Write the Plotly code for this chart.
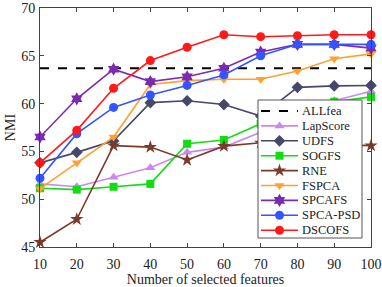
import plotly.graph_objects as go

features = [10, 20, 30, 40, 50, 60, 70, 80, 90, 100]
allfea = 63.7
lapscore = [51.6, 51.3, 52.3, 53.3, 54.9, 55.45, 57.0, 58.8, 60.3, 61.3]
udfs = [53.8, 54.9, 56.1, 60.1, 60.3, 59.9, 58.7, 61.7, 61.85, 61.9]
sogfs = [51.15, 51.0, 51.3, 51.6, 55.8, 56.2, 57.9, 59.6, 60.2, 60.7]
rne = [45.5, 47.9, 55.6, 55.45, 54.1, 55.55, 55.9, 55.8, 55.7, 55.6]
fspca = [51.1, 53.8, 56.5, 62.0, 62.4, 62.55, 62.55, 63.4, 64.7, 65.2]
spcafs = [56.5, 60.5, 63.6, 62.3, 62.8, 63.7, 65.4, 66.2, 66.2, 65.8]
spcapsd = [52.2, 56.85, 59.6, 60.9, 61.9, 63.0, 65.0, 66.2, 66.2, 66.2]
dscofs = [53.8, 57.2, 61.6, 64.5, 65.9, 67.2, 67.0, 67.1, 67.2, 67.2]

series = [
    ("LapScore", lapscore, "#cc88ee", "triangle-up", 9),
    ("UDFS", udfs, "#474768", "diamond", 9),
    ("SOGFS", sogfs, "#11dd11", "square", 8),
    ("RNE", rne, "#7a3a2c", "star", 10),
    ("FSPCA", fspca, "#ffa030", "triangle-down", 9),
    ("SPCAFS", spcafs, "#7a2bb0", "hexagram", 10),
    ("SPCA-PSD", spcapsd, "#3355ff", "circle", 9),
    ("DSCOFS", dscofs, "#ff1a1a", "circle", 9),
]

FONT = "Liberation Serif"
TXT = "#222222"

fig = go.Figure()
fig.add_trace(go.Scatter(
    x=features, y=[allfea] * len(features), mode="lines", name="ALLfea",
    line=dict(color="black", width=1.8, dash="dash"), showlegend=False,
))
for name, vals, color, sym, size in series:
    fig.add_trace(go.Scatter(
        x=features, y=vals, mode="lines+markers", name=name,
        line=dict(color=color, width=1.6), cliponaxis=False,
        marker=dict(color=color, symbol=sym, size=size), showlegend=False,
    ))

# ---- custom compact legend drawn on an overlay axis (plot-area fractions) ----
W, H = 331.0, 239.0
def fx(px):
    return (px - 40) / W
def fy(py):
    return 1 - (py - 8) / H

bx0, bx1, by0, by1 = fx(258), fx(362), fy(238), fy(100)
fig.add_trace(go.Scatter(
    x=[bx0, bx1, bx1, bx0, bx0], y=[by0, by0, by1, by1, by0],
    xaxis="x2", yaxis="y2", mode="lines", fill="toself", fillcolor="white",
    line=dict(color="#555555", width=1), showlegend=False, hoverinfo="skip"))

entries = [("ALLfea", "black", None, 0, "dash")] + [
    (n, c, s, z, "solid") for n, _, c, s, z in series]
lx0, lx1, lxm, tx = fx(261), fx(298), fx(279.5), fx(300)
for i, (name, color, sym, size, dash) in enumerate(entries):
    yy = fy(111 + 14.9 * i)
    fig.add_trace(go.Scatter(
        x=[lx0, lx1], y=[yy, yy], xaxis="x2", yaxis="y2", mode="lines",
        line=dict(color=color, width=1.8 if dash == "dash" else 1.6, dash=dash),
        showlegend=False, hoverinfo="skip"))
    if sym is not None:
        fig.add_trace(go.Scatter(
            x=[lxm], y=[yy], xaxis="x2", yaxis="y2", mode="markers",
            marker=dict(color=color, symbol=sym, size=size), showlegend=False,
            hoverinfo="skip", cliponaxis=False))
    fig.add_annotation(x=tx, y=yy, xref="paper", yref="paper", text=name,
                       showarrow=False, xanchor="left", yanchor="middle",
                       font=dict(family=FONT, size=12.5, color=TXT))

axis_common = dict(
    showgrid=False, zeroline=False, showline=True, mirror="ticks",
    linecolor="#444444", linewidth=1, ticks="inside", ticklen=4,
    tickcolor="#444444", automargin=False,
    tickfont=dict(family=FONT, size=14, color=TXT),
)
fig.update_layout(
    xaxis=dict(range=[10, 100], tickvals=features, ticklabelstandoff=4,
               title=dict(text="Number of selected features",
                          font=dict(family=FONT, size=14, color=TXT), standoff=2),
               **axis_common),
    yaxis=dict(range=[45, 70], tickvals=[45, 50, 55, 60, 65, 70], ticklabelstandoff=1,
               title=dict(text="NMI", font=dict(family=FONT, size=14, color=TXT), standoff=2),
               **axis_common),
    xaxis2=dict(range=[0, 1], domain=[0, 1], overlaying="x", visible=False, anchor="y2"),
    yaxis2=dict(range=[0, 1], domain=[0, 1], overlaying="y", visible=False, anchor="x2"),
    width=382, height=287,
    margin=dict(l=40, r=11, t=8, b=40),
    plot_bgcolor="white", paper_bgcolor="white",
    showlegend=False,
)

fig.write_html("out.html", config={"displayModeBar": False},
               post_script="document.body.style.margin='0';document.body.style.overflow='hidden';")
